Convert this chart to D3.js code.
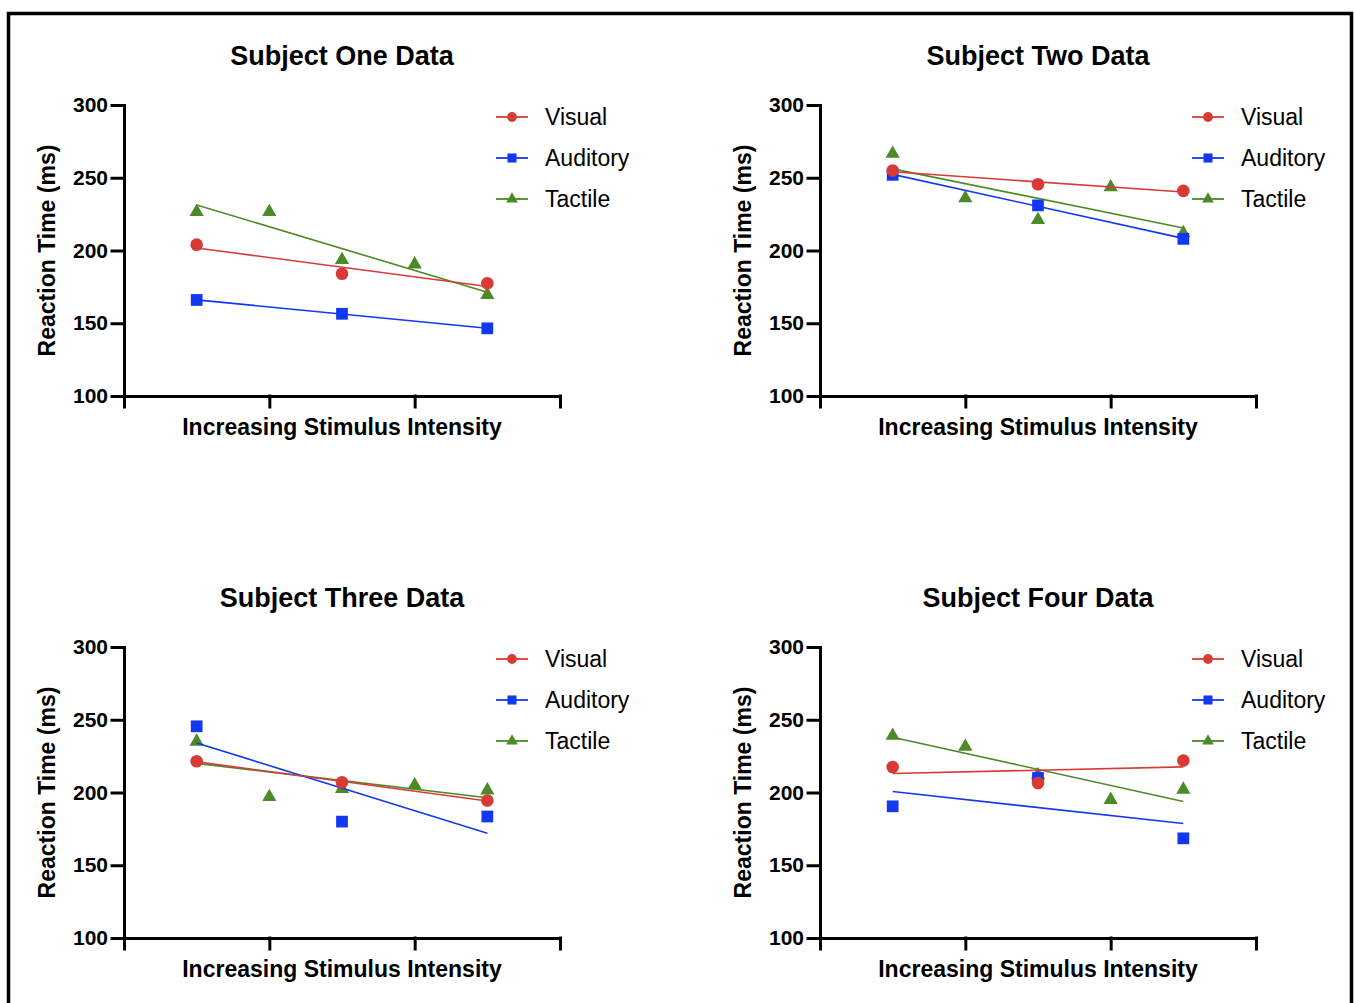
<!DOCTYPE html>
<html>
<head>
<meta charset="utf-8">
<script src="https://cdn.jsdelivr.net/npm/d3@7"></script>
<style>
  body { margin: 0; background: #fff; }
  svg { display: block; font-family: "Liberation Sans", Arial, Helvetica, sans-serif; }
</style>
</head>
<body>
<svg width="1354" height="1003"></svg>
<script>
const width = 1354;
const height = 1003;

// chart values
const panelTitles = ['Subject One Data', 'Subject Two Data', 'Subject Three Data', 'Subject Four Data'];
const seriesNames = ['Visual', 'Auditory', 'Tactile'];
const seriesColors = ['#d83b36', '#1238f2', '#4b8a26'];
const seriesSymbols = [d3.symbolCircle, d3.symbolSquare, d3.symbolTriangle];
const xThree = [0.5, 1.5, 2.5];
const xFive = [0.5, 1, 1.5, 2, 2.5];
const visual = [
  [204, 184, 177.5],
  [255, 245.5, 241],
  [221.5, 207, 194.5],
  [217.5, 206.5, 222]
];
const auditory = [
  [166, 156.5, 146.5],
  [252, 231, 208],
  [245.5, 180, 183.5],
  [190.5, 210, 168.5]
];
const tactile = [
  [226.5, 226.5, 193.5, 190.5, 169.5],
  [266.5, 236, 221, 243.5, 212],
  [235, 197, 202.5, 205, 201.5],
  [239, 231.5, 212, 195, 202]
];
const yTicks = [100, 150, 200, 250, 300];
const xTicks = [0, 1, 2, 3];
const xTitle = 'Increasing Stimulus Intensity';
const yTitle = 'Reaction Time (ms)';

const panelLeft = [124, 820, 124, 820];
const panelTop = [105, 105, 647, 647];
const plotW = 436;
const plotH = 291;

const svg = d3.select('svg');

// outer frame (open at the bottom)
svg.append('path')
    .attr('d', `M8.5,${height + 5}V13.5H1351.5V${height + 5}`)
    .attr('fill', 'none')
    .attr('stroke', '#000')
    .attr('stroke-width', 3.5);

// least squares line through a series
function fit(xs, ys) {
  const mx = d3.mean(xs), my = d3.mean(ys);
  const sxy = d3.sum(xs, (v, i) => (v - mx) * (ys[i] - my));
  const sxx = d3.sum(xs, v => (v - mx) * (v - mx));
  const b = sxy / sxx;
  return t => my + b * (t - mx);
}

const symSize = [125, 138, 88];
const legSize = [75, 82, 60];

panelTitles.forEach((title, p) => {
  const left = panelLeft[p], top = panelTop[p];
  const x = d3.scaleLinear().domain([0, 3]).range([left, left + plotW]);
  const y = d3.scaleLinear().domain([100, 300]).range([top + plotH, top]);
  const g = svg.append('g');

  g.append('text')
      .attr('x', left + plotW / 2)
      .attr('y', top - 40)
      .attr('text-anchor', 'middle')
      .attr('font-size', 27)
      .attr('font-weight', 'bold')
      .text(title);

  const yAxis = g.append('g')
      .attr('transform', `translate(${left},0)`)
      .call(d3.axisLeft(y).tickValues(yTicks).tickSize(12).tickSizeOuter(0).tickPadding(4));
  yAxis.selectAll('text')
      .attr('font-size', 21)
      .attr('font-weight', 'bold')
      .attr('fill', '#000')
      .attr('font-family', null);

  g.append('g')
      .attr('transform', `translate(0,${top + plotH})`)
      .call(d3.axisBottom(x).tickValues(xTicks).tickSize(11).tickSizeOuter(0).tickFormat(''));

  g.selectAll('.domain, .tick line')
      .attr('stroke', '#000')
      .attr('stroke-width', 3)
      .attr('stroke-linecap', 'square');

  g.append('text')
      .attr('x', left + plotW / 2)
      .attr('y', top + plotH + 39)
      .attr('text-anchor', 'middle')
      .attr('font-size', 23)
      .attr('font-weight', 'bold')
      .text(xTitle);

  g.append('text')
      .attr('transform', `translate(${left - 69},${top + plotH / 2}) rotate(-90)`)
      .attr('text-anchor', 'middle')
      .attr('font-size', 23)
      .attr('font-weight', 'bold')
      .text(yTitle);

  const series = [
    {xs: xThree, ys: visual[p]},
    {xs: xThree, ys: auditory[p]},
    {xs: xFive, ys: tactile[p]}
  ];

  // draw tactile first so visual sits on top
  [2, 1, 0].forEach(s => {
    const {xs, ys} = series[s];
    const f = fit(xs, ys);
    const x0 = d3.min(xs), x1 = d3.max(xs);
    g.append('line')
        .attr('x1', x(x0)).attr('y1', y(f(x0)))
        .attr('x2', x(x1)).attr('y2', y(f(x1)))
        .attr('stroke', seriesColors[s])
        .attr('stroke-width', 1.6);
    g.append('g')
        .selectAll('path')
        .data(xs.map((v, i) => [v, ys[i]]))
        .join('path')
        .attr('transform', d => `translate(${x(d[0])},${y(d[1])})`)
        .attr('d', d3.symbol(seriesSymbols[s], symSize[s]))
        .attr('fill', seriesColors[s]);
  });

  // legend
  const right = left + plotW;
  seriesNames.forEach((name, s) => {
    const ly = top + 12 + s * 41;
    g.append('line')
        .attr('x1', right - 64).attr('x2', right - 32)
        .attr('y1', ly).attr('y2', ly)
        .attr('stroke', seriesColors[s])
        .attr('stroke-width', 1.8);
    g.append('path')
        .attr('transform', `translate(${right - 48},${ly})`)
        .attr('d', d3.symbol(seriesSymbols[s], legSize[s]))
        .attr('fill', seriesColors[s]);
    g.append('text')
        .attr('x', right - 15)
        .attr('y', ly)
        .attr('dy', '0.35em')
        .attr('font-size', 23)
        .text(name);
  });
});
</script>
</body>
</html>
